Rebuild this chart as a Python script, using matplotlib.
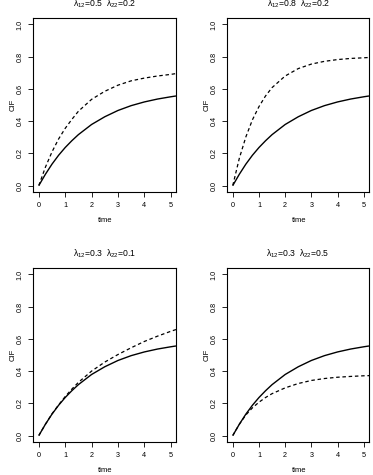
import matplotlib
matplotlib.use("Agg")
import matplotlib.pyplot as plt

plt.rcParams['font.family'] = ['Liberation Sans', 'DejaVu Sans']
plt.rcParams['mathtext.fontset'] = 'custom'
plt.rcParams['mathtext.rm'] = 'Liberation Sans'
plt.rcParams['mathtext.it'] = 'Liberation Sans'

time = [0, 0.25, 0.5, 0.75, 1, 1.25, 1.5, 2, 2.5, 3, 3.5, 4, 4.5, 5, 5.2]
solid = [0, 0.07, 0.133, 0.188, 0.236, 0.278, 0.316, 0.379, 0.427, 0.466, 0.496, 0.519, 0.537, 0.551, 0.556]
dashed_1 = [0, 0.114, 0.209, 0.289, 0.355, 0.41, 0.461, 0.535, 0.585, 0.623, 0.65, 0.667, 0.68, 0.69, 0.695]
dashed_2 = [0, 0.169, 0.302, 0.408, 0.49, 0.556, 0.608, 0.68, 0.726, 0.754, 0.771, 0.782, 0.789, 0.793, 0.795]
dashed_3 = [0, 0.07, 0.135, 0.19, 0.242, 0.288, 0.33, 0.40, 0.456, 0.503, 0.545, 0.584, 0.617, 0.647, 0.658]
dashed_4 = [0, 0.07, 0.128, 0.172, 0.207, 0.236, 0.26, 0.296, 0.323, 0.342, 0.354, 0.362, 0.367, 0.371, 0.372]
titles = [r'$\lambda_{12}$=0.5  $\lambda_{22}$=0.2',
          r'$\lambda_{12}$=0.8  $\lambda_{22}$=0.2',
          r'$\lambda_{12}$=0.3  $\lambda_{22}$=0.1',
          r'$\lambda_{12}$=0.3  $\lambda_{22}$=0.5']
dashed = [dashed_1, dashed_2, dashed_3, dashed_4]
xticks = [0, 1, 2, 3, 4, 5]
yticks = [0.0, 0.2, 0.4, 0.6, 0.8, 1.0]
ytick_labels = ['0.0', '0.2', '0.4', '0.6', '0.8', '1.0']

W, H = 373, 475
fig = plt.figure(figsize=(W / 100, H / 100), dpi=100)

# axes boxes in pixels: left, top, right, bottom
boxes = [(33, 18, 176, 192), (227, 18, 369, 192), (33, 268, 176, 442), (227, 268, 369, 442)]

for i, (l, t, r, b) in enumerate(boxes):
    ax = fig.add_axes([l / W, 1 - b / H, (r - l) / W, (b - t) / H])
    ax.plot(time, solid, color='black', lw=1.0, solid_capstyle='butt')
    ax.plot(time, dashed[i], color='black', lw=0.9, linestyle=(0, (2.8, 2.2)))
    ax.set_xlim(-0.22, 5.2)
    ax.set_ylim(-0.04, 1.04)
    ax.set_xticks(xticks)
    ax.set_xticklabels([str(v) for v in xticks])
    ax.set_yticks(yticks)
    ax.set_yticklabels(ytick_labels, rotation=90, va='center')
    ax.tick_params(direction='out', length=3.5, width=0.6, labelsize=5.2, pad=3.5, colors='black')
    for s in ax.spines.values():
        s.set_linewidth(0.8)
    ax.set_title(titles[i], fontsize=6.2, pad=8)
    fig.text((l - 20) / W, 1 - ((t + b) / 2) / H, 'CIF', fontsize=5.5,
             rotation=90, ha='center', va='center')
    fig.text(((l + r) / 2 + 1) / W, 1 - (b + 29) / H, 'time', fontsize=5.5,
             ha='center', va='center')

fig.savefig('out.png', dpi=100)
